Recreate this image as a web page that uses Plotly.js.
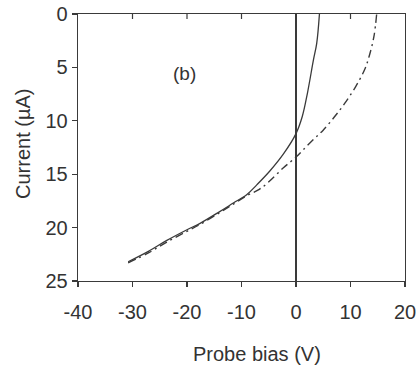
<!DOCTYPE html>
<html>
<head>
<meta charset="utf-8">
<script src="https://cdn.plot.ly/plotly-3.0.1.min.js"></script>
<style>html,body{margin:0;padding:0;background:#fff;}#chart{width:417px;height:369px;}</style>
</head>
<body>
<div id="chart"></div>
<script>
// Solid curve (probe bias V, current µA)
const solidBias = [-30.8, -27, -23.7, -20, -17.6, -14, -11.5, -9, -7.2, -4.8, -2.3, 0, 1.15, 2.1, 3.2, 3.8, 4.3];
const solidCurrent = [23.2, 22.2, 21.2, 20.2, 19.6, 18.5, 17.7, 16.9, 16.0, 14.7, 13.1, 11.2, 9.6, 7.4, 4.3, 2.75, 0];
// Dash-dot curve
const dashBias = [-30.8, -27, -23.7, -20, -17.6, -14, -11.5, -9, -7, -5.4, -2.3, 0, 1.35, 3.4, 4.95, 7.1, 8.9, 10.95, 12.6, 13.4, 14.3, 14.8];
const dashCurrent = [23.3, 22.35, 21.35, 20.35, 19.7, 18.6, 17.8, 17.0, 16.5, 15.9, 14.4, 13.4, 12.7, 11.65, 10.9, 9.6, 8.4, 6.8, 5.2, 4.0, 2.1, 0];
// Axis ticks
const xTicks = [-40, -30, -20, -10, 0, 10, 20];
const yTicks = [0, 5, 10, 15, 20, 25];
const panelLabel = "(b)";

const lineColor = "#3a3a3a";
const textColor = "#333333";
const font = {family: "Liberation Sans, Arial, sans-serif", size: 20, color: textColor};

const traces = [
  {x: solidBias, y: solidCurrent, mode: "lines", line: {color: lineColor, width: 1.3, shape: "spline", dash: "solid"}, hoverinfo: "skip"},
  {x: dashBias, y: dashCurrent, mode: "lines", line: {color: lineColor, width: 1.4, shape: "spline", dash: "8px,4px,2px,4px"}, hoverinfo: "skip"}
];

const pw = 417 - 78 - 12, ph = 369 - 14 - 88;
const layout = {
  width: 417, height: 369,
  margin: {l: 78, r: 12, t: 14, b: 88, pad: 0},
  paper_bgcolor: "#fff", plot_bgcolor: "#fff",
  showlegend: false,
  font: font,
  xaxis: {
    range: [-40, 20], tickvals: xTicks, ticktext: xTicks.map(String),
    ticks: "outside", ticklen: 5, tickwidth: 1.2, tickcolor: lineColor,
    showline: true, linecolor: lineColor, linewidth: 1.3, mirror: true,
    showgrid: false, zeroline: true, zerolinecolor: lineColor, zerolinewidth: 1.5,
    tickfont: font, ticklabelstandoff: 8
  },
  yaxis: {
    range: [25, 0], tickvals: yTicks, ticktext: yTicks.map(String),
    ticks: "outside", ticklen: 5, tickwidth: 1.2, tickcolor: lineColor,
    showline: true, linecolor: lineColor, linewidth: 1.3, mirror: true,
    showgrid: false, zeroline: false, tickfont: font
  },
  // inward tick marks along the top frame, at the same tick values as the bottom axis
  shapes: xTicks.slice(1, -1).map(v => ({
    type: "line", xref: "x", yref: "paper", x0: v, x1: v, y0: 1, y1: 1 - 5 / ph,
    line: {color: lineColor, width: 1.2}
  })),
  annotations: [
    {text: panelLabel, x: -20.5, y: 5.6, xref: "x", yref: "y", showarrow: false, xanchor: "center", yanchor: "middle", font: {family: font.family, size: 19, color: textColor}},
    {text: "Probe bias (V)", x: (257 - 78) / pw, y: (369 - 88 - 354) / ph, xref: "paper", yref: "paper", showarrow: false, xanchor: "center", yanchor: "middle", font: font},
    {text: "Current (\u00b5A)", textangle: -90, x: (23 - 78) / pw, y: (369 - 88 - 144) / ph, xref: "paper", yref: "paper", showarrow: false, xanchor: "center", yanchor: "middle", font: font}
  ]
};

Plotly.newPlot("chart", traces, layout, {staticPlot: true, displayModeBar: false});
</script>
</body>
</html>
